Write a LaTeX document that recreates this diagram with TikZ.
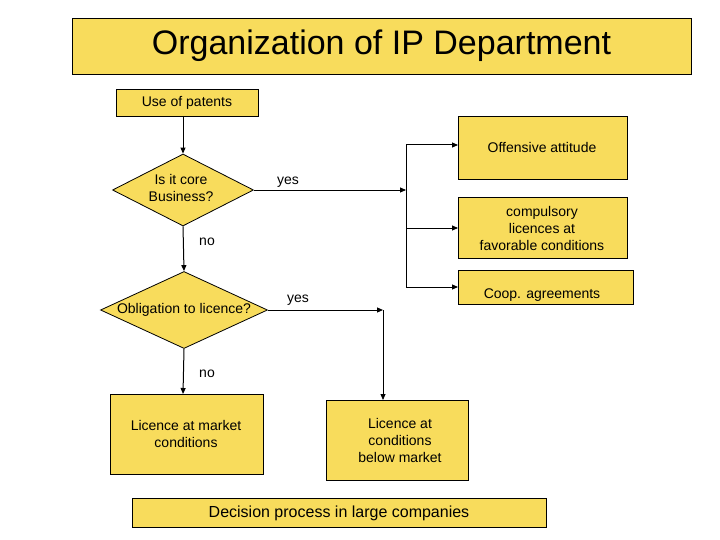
\documentclass[tikz,border=0pt]{standalone}
\usepackage{fontspec}
\setmainfont{Liberation Sans}
\usetikzlibrary{shapes.geometric,arrows.meta}
\definecolor{boxy}{RGB}{248,220,92}
\begin{document}
\begin{tikzpicture}[x=1pt,y=-1pt,
  bx/.style={draw=black,fill=boxy,line width=0.8pt},
  lbl/.style={font=\fontsize{14}{17}\selectfont,align=center},
  ar/.style={line width=1pt,-{Triangle[length=6pt,width=5pt]}},
  ln/.style={line width=1pt}]
\useasboundingbox (0,0) rectangle (720,540);
\draw[bx] (72,18) rectangle (691,74);
\node[font=\fontsize{34}{40}\selectfont] (title) at (381.5,46) {Organization of IP Department};
\draw[bx] (116,89) rectangle (258,116);
\node[lbl] (use) at (187,103) {Use of patents};
\node[bx,diamond,minimum width=141pt,minimum height=72pt,inner sep=0pt,aspect=2] (d1) at (183,190) {};
\node[lbl] at (181,188) {Is it core\\Business?};
\node[bx,diamond,minimum width=167pt,minimum height=77pt,inner sep=0pt,aspect=2.2] (d2) at (184,310) {};
\node[lbl] at (184,310) {Obligation to licence?};
\draw[bx] (458,116) rectangle (627,179);
\node[lbl] (off) at (542,147) {Offensive attitude};
\draw[bx] (458,197) rectangle (627,258);
\node[lbl] (comp) at (542,228) {compulsory\\licences at\\favorable conditions};
\draw[bx] (458,270) rectangle (633,304);
\node[lbl] (coop) at (542,295) {Coop. agreements};
\draw[bx] (110,394) rectangle (263,474);
\node[lbl] (mkt) at (186,434) {Licence at market\\conditions};
\draw[bx] (326,400) rectangle (468,480);
\node[lbl] (below) at (400,440) {Licence at\\conditions\\below market};
\draw[bx] (132,498) rectangle (546,527);
\node[font=\fontsize{16}{19}\selectfont] (dec) at (339,513) {Decision process in large companies};
\coordinate (j) at (406,190);
\coordinate (jt) at (406,145);
\coordinate (jb) at (406,287);
\coordinate (yr) at (383,310);
\draw[ar] (183,116) -- (d1.north);
\draw[ar] (d1.south) -- (d2.north);
\draw[ar] (d2.south) -- (183,394);
\draw[ar,line width=0.8pt] (d1.east) -- (j);
\draw[ln] (jt) -- (jb);
\draw[ar] (jt) -- (458,145);
\draw[ar,line width=0.8pt] (406,228) -- (458,228);
\draw[ar] (jb) -- (458,287);
\draw[ar] (d2.east) -- (yr);
\draw[ar,line width=0.8pt] (yr) -- (383,400);
\node[lbl] at (288,182) {yes};
\node[lbl] at (207,242) {no};
\node[lbl] at (298,300) {yes};
\node[lbl] at (207,374) {no};
\end{tikzpicture}
\end{document}
